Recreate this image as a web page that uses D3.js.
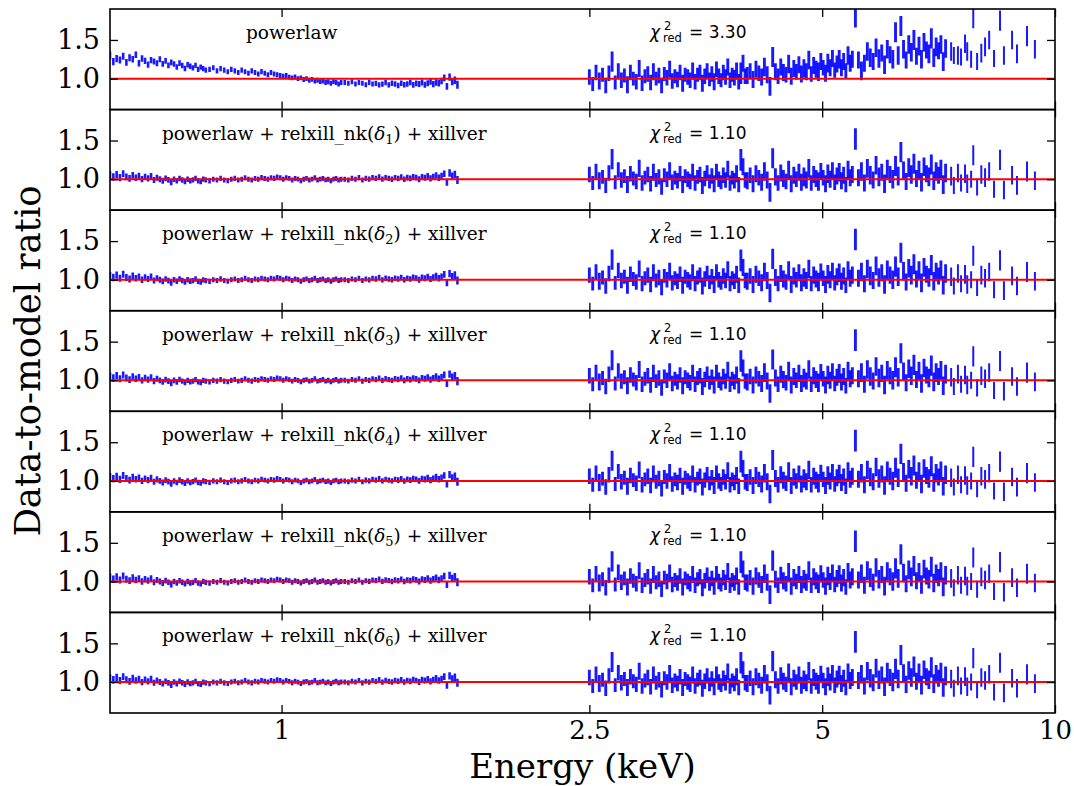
<!DOCTYPE html>
<html>
<head>
<meta charset="utf-8">
<script src="https://cdn.jsdelivr.net/npm/d3@7"></script>
<style>
  body { margin: 0; background: #fff; }
</style>
</head>
<body>
<div id="chart"></div>
<script>
// soft band channels (keV)
const softEnergy = [
  0.600,0.606,0.612,0.618,0.624,0.630,0.636,0.642,0.648,0.654,0.660,0.666,0.672,0.678,0.684,0.690,0.696,
  0.702,0.708,0.714,0.720,0.726,0.732,0.738,0.744,0.750,0.756,0.762,0.768,0.774,0.780,0.786,0.792,0.798,
  0.807,0.816,0.825,0.834,0.843,0.852,0.861,0.870,0.879,0.888,0.897,0.906,0.915,0.924,0.933,0.942,0.951,
  0.960,0.969,0.978,0.987,0.996,1.005,1.014,1.023,1.032,1.041,1.050,1.059,1.068,1.077,1.086,1.095,1.104,
  1.113,1.122,1.131,1.140,1.149,1.158,1.167,1.176,1.185,1.194,
  1.207,1.220,1.233,1.246,1.259,1.272,1.285,1.298,1.311,1.324,1.337,1.350,1.363,1.376,1.389,1.402,1.415,
  1.428,1.441,1.454,1.467,1.480,1.493,1.506,1.519,1.532,1.545,1.558,1.571,1.584,1.597,1.610,1.623,1.636,
  1.649,1.662,1.675,1.688
];
const softError = [
  0.052,0.048,0.047,0.046,0.045,0.045,0.044,0.043,0.042,0.042,0.041,0.041,0.040,0.040,0.039,0.039,0.038,
  0.038,0.037,0.037,0.037,0.036,0.036,0.036,0.035,0.035,0.035,0.035,0.034,0.034,0.034,0.034,0.034,0.034,
  0.034,0.033,0.033,0.034,0.033,0.032,0.033,0.033,0.032,0.033,0.032,0.032,0.033,0.032,0.032,0.033,0.032,
  0.032,0.032,0.033,0.032,0.032,0.032,0.032,0.031,0.032,0.032,0.031,0.032,0.032,0.031,0.032,0.031,0.032,
  0.032,0.031,0.032,0.031,0.032,0.032,0.031,0.032,0.032,0.032,
  0.032,0.032,0.033,0.032,0.033,0.033,0.033,0.034,0.033,0.034,0.034,0.034,0.035,0.034,0.035,0.035,0.036,
  0.035,0.036,0.036,0.037,0.037,0.037,0.038,0.038,0.039,0.039,0.040,0.040,0.041,0.042,0.042,0.043,0.045,
  0.047,0.047,0.049,0.052
];
const softRatioPowerlaw = [
  1.30,1.22,1.26,1.24,1.29,1.21,1.27,1.25,1.31,1.20,1.26,1.23,1.18,1.24,1.22,1.20,1.25,
  1.19,1.23,1.17,1.21,1.19,1.15,1.20,1.17,1.13,1.18,1.16,1.14,1.17,1.12,1.15,1.13,1.11,
  1.12,1.14,1.10,1.13,1.11,1.09,1.12,1.10,1.08,1.11,1.09,1.07,1.10,1.08,1.06,1.09,1.07,
  1.05,1.08,1.06,1.05,1.04,1.03,1.04,1.02,1.01,1.02,1.00,1.01,0.99,1.00,0.98,0.99,0.97,
  0.98,0.96,0.97,0.95,0.96,0.94,0.96,0.95,0.93,0.95,
  0.95,0.94,0.96,0.93,0.95,0.94,0.92,0.95,0.93,0.94,0.92,0.93,0.95,0.92,0.94,0.93,0.91,
  0.94,0.92,0.93,0.95,0.92,0.94,0.93,0.95,0.92,0.94,0.96,0.93,0.95,0.94,0.97,1.01,0.90,
  1.02,0.96,0.98,0.92
];
const softRatioBest = [
  1.05,1.03,1.06,1.02,1.07,1.03,1.01,1.05,1.02,1.04,1.00,1.03,1.01,1.04,0.99,1.02,1.00,
  0.98,1.01,0.99,0.96,1.00,0.98,1.01,0.99,0.97,1.00,0.98,0.99,1.01,0.98,0.97,1.00,0.99,
  0.98,1.00,0.99,1.01,0.99,0.98,1.00,1.01,0.99,1.00,1.02,1.00,0.99,1.01,1.00,1.02,1.01,
  1.00,1.02,1.01,1.03,1.02,1.00,1.02,1.01,0.99,1.01,1.00,0.98,1.00,1.01,0.99,1.00,1.02,
  0.99,1.00,1.01,0.99,1.00,0.98,1.00,1.01,0.99,1.00,
  1.00,0.99,1.01,1.00,1.02,0.99,1.01,1.00,1.02,1.01,1.03,1.00,1.02,1.01,1.00,1.02,1.01,
  1.03,1.00,1.02,1.01,1.03,1.02,1.00,1.03,1.02,1.04,1.01,1.03,1.05,1.02,1.04,1.07,0.96,
  1.08,1.04,1.06,0.99
];

// hard band channels (keV)
const hardEnergy = [
  2.500,2.525,2.550,2.575,2.600,2.625,2.650,2.675,2.700,2.725,2.750,2.775,2.800,2.825,2.850,
  2.875,2.900,2.925,2.950,2.975,3.000,3.025,3.050,3.075,3.100,3.125,3.150,3.175,3.200,3.225,
  3.250,3.275,3.300,3.325,3.350,3.375,3.400,3.425,3.450,3.475,3.500,3.525,3.550,3.575,3.600,
  3.625,3.650,3.675,3.700,3.725,3.750,3.775,3.800,3.825,3.850,3.875,3.900,3.925,3.950,3.975,
  4.000,4.035,4.070,4.105,4.140,4.175,4.210,4.245,4.280,4.315,4.350,4.385,4.420,4.455,4.490,
  4.525,4.560,4.595,4.630,4.665,4.700,4.735,4.770,4.805,4.840,4.875,4.910,4.945,4.980,5.015,
  5.050,5.085,5.120,5.155,5.190,5.225,5.260,5.295,5.330,5.365,5.400,5.435,5.470,
  5.52,5.57,5.62,5.67,5.72,5.77,5.82,5.87,5.92,5.97,6.02,6.07,6.12,6.17,6.22,6.27,6.32,6.37,
  6.42,6.47,6.52,6.57,6.62,6.67,6.72,6.77,6.82,6.87,6.92,6.97,7.02,7.07,7.12,7.17,7.22,
  7.34,7.40,7.49,7.56,7.65,7.70,7.79,7.84,7.93,8.03,8.12,8.22,8.34,8.49,8.59,8.80,8.93,9.20,9.42
];
const hardError = [
  0.10,0.09,0.10,0.11,0.09,0.10,0.10,0.13,0.09,0.10,0.10,0.09,0.11,0.10,0.09,
  0.10,0.11,0.10,0.09,0.10,0.10,0.11,0.09,0.10,0.10,0.09,0.10,0.11,0.10,0.09,
  0.10,0.10,0.11,0.09,0.10,0.10,0.11,0.10,0.09,0.10,0.11,0.10,0.10,0.09,0.10,
  0.11,0.10,0.10,0.09,0.10,0.10,0.11,0.10,0.09,0.10,0.11,0.10,0.14,0.11,0.10,
  0.11,0.10,0.11,0.11,0.10,0.11,0.12,0.11,0.12,0.13,0.11,0.10,0.11,0.11,0.10,
  0.12,0.11,0.11,0.10,0.11,0.11,0.12,0.11,0.12,0.10,0.11,0.11,0.12,0.11,0.10,
  0.11,0.12,0.11,0.11,0.10,0.11,0.12,0.11,0.11,0.10,0.12,0.11,0.11,
  0.14,0.11,0.12,0.11,0.12,0.12,0.11,0.12,0.12,0.11,0.12,0.12,0.11,0.12,0.13,0.12,0.13,0.12,
  0.11,0.12,0.12,0.13,0.11,0.12,0.12,0.12,0.11,0.12,0.13,0.12,0.12,0.11,0.12,0.12,0.12,
  0.12,0.11,0.12,0.11,0.12,0.12,0.11,0.13,0.11,0.12,0.12,0.12,0.11,0.13,0.12,0.12,0.12,0.13,0.12
];
const hardRatioPowerlaw = [
  1.02,0.93,1.08,0.97,1.05,0.91,1.07,1.22,0.95,1.10,0.98,1.04,0.92,1.08,1.00,
  0.96,1.13,0.94,1.03,1.06,0.95,1.09,1.00,1.04,0.91,1.06,1.01,1.12,0.97,1.03,
  0.99,1.08,0.94,1.05,1.02,0.98,1.10,0.96,1.05,1.08,0.94,1.03,1.10,0.99,1.06,
  0.96,1.12,1.03,0.98,1.08,1.02,1.15,0.98,1.05,1.01,1.10,0.96,1.07,1.20,1.03,
  1.04,1.10,0.99,1.12,1.07,1.02,1.15,1.05,0.90,1.28,1.09,1.03,1.15,1.08,1.05,
  1.19,1.03,1.13,1.09,1.18,1.06,1.13,1.09,1.24,1.06,1.17,1.12,1.09,1.22,1.14,
  1.07,1.20,1.14,1.26,1.11,1.19,1.25,1.14,1.22,1.10,1.30,1.20,1.25,
  1.80,1.24,1.10,1.20,1.35,1.27,1.22,1.40,1.26,1.33,1.18,1.38,1.31,1.25,1.60,1.30,1.68,1.38,
  1.24,1.44,1.34,1.50,1.29,1.42,1.25,1.47,1.37,1.32,1.52,1.27,1.41,1.36,1.44,1.22,1.39,
  1.35,1.30,1.30,1.28,1.45,1.35,1.25,1.78,1.22,1.33,1.41,1.50,1.26,1.75,1.30,1.50,1.32,1.55,1.38
];
const hardRatioBest = [
  1.06,0.95,1.10,0.98,1.03,0.92,1.08,1.26,0.96,1.12,0.99,1.04,0.93,1.07,1.01,
  0.97,1.14,0.95,1.02,1.06,0.94,1.09,0.99,1.03,0.90,1.05,1.00,1.11,0.96,1.02,
  0.98,1.07,0.93,1.04,1.00,0.97,1.09,0.95,1.03,1.06,0.92,1.01,1.08,0.97,1.04,
  0.94,1.10,1.00,0.96,1.05,0.99,1.13,0.95,1.02,0.98,1.07,0.93,1.25,1.16,0.99,
  0.98,1.05,0.94,1.07,1.02,0.96,1.10,0.99,0.83,1.27,1.03,0.95,1.08,1.01,0.97,
  1.12,0.94,1.05,1.00,1.09,0.96,1.03,0.99,1.14,0.95,1.06,1.01,0.97,1.10,1.02,
  0.94,1.07,1.00,1.11,0.96,1.04,1.09,0.98,1.05,0.93,1.12,1.02,1.06,
  1.52,1.02,1.10,0.95,1.14,1.05,0.99,1.18,1.03,1.09,0.94,1.13,1.06,1.00,1.17,1.04,1.35,1.11,
  0.97,1.15,1.06,1.20,1.01,1.12,0.96,1.16,1.07,1.03,1.19,0.98,1.10,1.05,1.13,0.93,1.08,
  1.04,0.92,1.08,0.95,1.07,0.94,1.00,1.31,0.90,1.06,1.02,1.10,0.87,1.25,0.86,1.05,0.92,1.10,0.98
];

const chiValues = ["3.30", "1.10", "1.10", "1.10", "1.10", "1.10", "1.10"];
const deltaIndex = [null, "1", "2", "3", "4", "5", "6"];
const xTicks = [1, 2.5, 5, 10];
const xTickLabels = ["1", "2.5", "5", "10"];
const yTicks = [1.0, 1.5];

const W = 1074, H = 786;
const plotLeft = 110, plotRight = 1055, plotTop = 9, plotBottom = 713;
const nPanels = chiValues.length;
const panelH = (plotBottom - plotTop) / nPanels;
const serif = "'DejaVu Serif', serif";
const sans = "'DejaVu Sans', sans-serif";

const svg = d3.select("#chart").append("svg")
    .attr("width", W)
    .attr("height", H)
    .style("font-family", serif);

const x = d3.scaleLog().domain([0.6, 10]).range([plotLeft, plotRight]);

for (let i = 0; i < nPanels; i++) {
    drawPanel(i);
}

function drawPanel(i) {
    const y0 = plotTop + i * panelH;
    const y = d3.scaleLinear().domain([0.6, 1.9]).range([y0 + panelH, y0]);
    const g = svg.append("g");

    const clipId = "clip" + i;
    g.append("clipPath").attr("id", clipId)
        .append("rect")
        .attr("x", plotLeft).attr("y", y0)
        .attr("width", plotRight - plotLeft).attr("height", panelH);

    const soft = i === 0 ? softRatioPowerlaw : softRatioBest;
    const hard = i === 0 ? hardRatioPowerlaw : hardRatioBest;
    const points = softEnergy.map((e, k) => ({ e, v: soft[k], err: softError[k] }))
        .concat(hardEnergy.map((e, k) => ({ e, v: hard[k], err: hardError[k] })));

    const plot = g.append("g").attr("clip-path", `url(#${clipId})`);

    plot.selectAll("line.bar")
        .data(points)
        .enter()
        .append("line")
        .attr("class", "bar")
        .attr("x1", d => x(d.e))
        .attr("x2", d => x(d.e))
        .attr("y1", d => y(d.v - d.err))
        .attr("y2", d => y(d.v + d.err))
        .style("stroke", "#0000ff")
        .style("stroke-opacity", 0.9)
        .style("stroke-width", d => d.e < 2 ? 2.6 : (d.e < 7.3 ? 2.9 : 2.0));

    plot.append("line")
        .attr("x1", plotLeft).attr("x2", plotRight)
        .attr("y1", y(1)).attr("y2", y(1))
        .style("stroke", "#ff0000")
        .style("stroke-width", 2);

    // inward ticks on every side
    const axes = [
        [d3.axisLeft(y).tickValues(yTicks).tickFormat(d3.format(".1f")), `translate(${plotLeft},0)`],
        [d3.axisRight(y).tickValues(yTicks).tickFormat(""), `translate(${plotRight},0)`],
        [d3.axisTop(x).tickValues(xTicks).tickFormat(""), `translate(0,${y0})`],
        [d3.axisBottom(x).tickValues(xTicks)
            .tickFormat(i === nPanels - 1 ? (d, k) => xTickLabels[k] : ""), `translate(0,${y0 + panelH})`]
    ];
    axes.forEach(([axis, tr], k) => {
        const a = g.append("g")
            .attr("transform", tr)
            .call(axis.tickSizeInner(-8).tickSizeOuter(0).tickPadding(k === 3 ? 8 : 10));
        a.select(".domain").remove();
        a.selectAll(".tick line").style("stroke", "#000").style("stroke-width", 1.3);
        a.selectAll(".tick text")
            .style("font-family", serif)
            .style("font-size", k === 3 ? "26px" : "27px")
            .style("fill", "#000");
    });

    g.append("rect")
        .attr("x", plotLeft).attr("y", y0)
        .attr("width", plotRight - plotLeft).attr("height", panelH)
        .style("fill", "none")
        .style("stroke", "#000")
        .style("stroke-width", 1.6);

    // model label
    const label = g.append("text")
        .attr("x", i === 0 ? 246 : 162)
        .attr("y", y0 + 30)
        .style("font-family", serif)
        .style("font-size", "18.5px");
    if (deltaIndex[i] === null) {
        label.text("powerlaw");
    } else {
        label.append("tspan").text("powerlaw + relxill_nk(");
        label.append("tspan").style("font-style", "italic").text("δ");
        label.append("tspan").attr("dy", 4).style("font-size", "13px").text(deltaIndex[i]);
        label.append("tspan").attr("dy", -4).text(") + xillver");
    }

    // reduced chi-square
    const cy = y0 + 29;
    g.append("text").attr("x", 650).attr("y", cy)
        .style("font-family", sans).style("font-style", "italic").style("font-size", "17px")
        .text("χ");
    g.append("text").attr("x", 664).attr("y", cy - 8)
        .style("font-family", sans).style("font-size", "11.5px")
        .text("2");
    g.append("text").attr("x", 663).attr("y", cy + 4)
        .style("font-family", sans).style("font-size", "11.5px")
        .text("red");
    g.append("text").attr("x", 689).attr("y", cy)
        .style("font-family", sans).style("font-size", "17px")
        .text("= " + chiValues[i]);
}

svg.append("text")
    .attr("x", (plotLeft + plotRight) / 2)
    .attr("y", 777.5)
    .attr("text-anchor", "middle")
    .style("font-size", "34px")
    .text("Energy (keV)");

svg.append("text")
    .attr("transform", `translate(40,${(plotTop + plotBottom) / 2}) rotate(-90)`)
    .attr("text-anchor", "middle")
    .style("font-size", "35.5px")
    .text("Data-to-model ratio");
</script>
</body>
</html>
